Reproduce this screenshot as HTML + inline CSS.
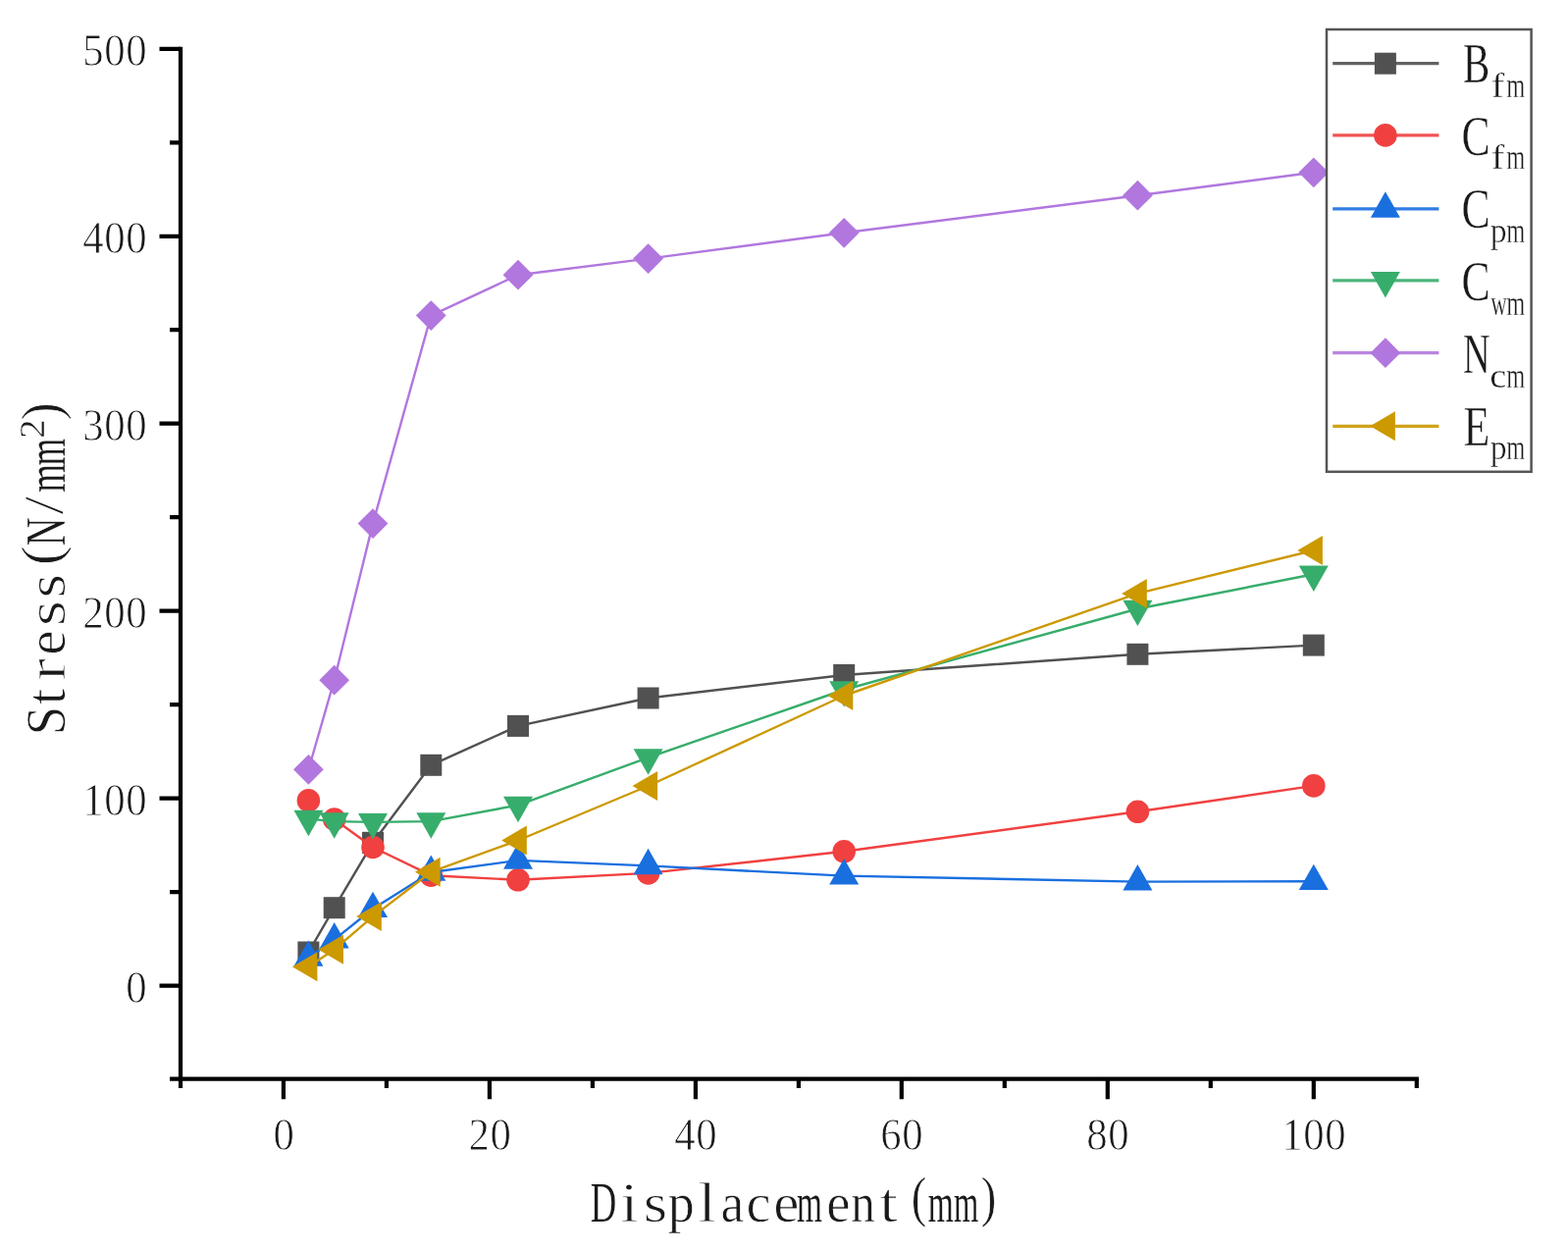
<!DOCTYPE html>
<html lang="en">
<head>
<meta charset="utf-8">
<title>Stress Displacement</title>
<style>
html,body{margin:0;padding:0;background:#fff;}
body{width:1598px;height:1275px;overflow:hidden;}
svg{display:block;}
text{font-family:"Liberation Serif","Noto Serif CJK SC",serif;fill:#1a1a1a;stroke:#fff;stroke-width:0.8;stroke-linejoin:round;}
.tk{font-size:46px;stroke-width:.45;}
.ti{font-size:57.5px;}
.lg{font-size:57.5px;}
.sb{font-size:36px;stroke-width:.4;}
.ax{stroke:#000;stroke-width:4.2;fill:none;}
</style>
</head>
<body>
<svg width="1598" height="1275" viewBox="0 0 1598 1275">
<rect width="1598" height="1275" fill="#fff"/>
<g id="series">
<g>
<path d="M314.4 970.5 L340.7 925.2 L380 858.8 L439.3 779.8 L528 739.9 L660.6 711.5 L860.2 688 L1159.4 666.8 L1338.8 657.6" fill="none" stroke="#515151" stroke-width="2.4" stroke-linejoin="round"/>
<rect x="303.4" y="959.5" width="22" height="22" fill="#515151"/>
<rect x="329.7" y="914.2" width="22" height="22" fill="#515151"/>
<rect x="369" y="847.8" width="22" height="22" fill="#515151"/>
<rect x="428.3" y="768.8" width="22" height="22" fill="#515151"/>
<rect x="517" y="728.9" width="22" height="22" fill="#515151"/>
<rect x="649.6" y="700.5" width="22" height="22" fill="#515151"/>
<rect x="849.2" y="677" width="22" height="22" fill="#515151"/>
<rect x="1148.4" y="655.8" width="22" height="22" fill="#515151"/>
<rect x="1327.8" y="646.6" width="22" height="22" fill="#515151"/>
</g>
<g>
<path d="M314.4 815.9 M340.7 835 L380 863.5 L439.3 892.2 L528 896.8 L660.6 889.9 L860.2 867.8 L1159.4 827.3 L1338.8 800.9" fill="none" stroke="#F14040" stroke-width="2.4" stroke-linejoin="round"/>
<circle cx="314.4" cy="815.9" r="11.8" fill="#F14040"/>
<circle cx="340.7" cy="835" r="11.8" fill="#F14040"/>
<circle cx="380" cy="863.5" r="11.8" fill="#F14040"/>
<circle cx="439.3" cy="892.2" r="11.8" fill="#F14040"/>
<circle cx="528" cy="896.8" r="11.8" fill="#F14040"/>
<circle cx="660.6" cy="889.9" r="11.8" fill="#F14040"/>
<circle cx="860.2" cy="867.8" r="11.8" fill="#F14040"/>
<circle cx="1159.4" cy="827.3" r="11.8" fill="#F14040"/>
<circle cx="1338.8" cy="800.9" r="11.8" fill="#F14040"/>
</g>
<g>
<path d="M314.4 976 L340.7 957.6 L380 926.3 L439.3 889 L528 876.9 L660.6 882.4 L860.2 892.6 L1159.4 898.6 L1338.8 898.3" fill="none" stroke="#1A6FDF" stroke-width="2.4" stroke-linejoin="round"/>
<polygon points="314.4,958.4 329.4,984.8 299.4,984.8" fill="#1A6FDF"/>
<polygon points="340.7,940 355.7,966.4 325.7,966.4" fill="#1A6FDF"/>
<polygon points="380,908.7 395,935.1 365,935.1" fill="#1A6FDF"/>
<polygon points="439.3,871.4 454.3,897.8 424.3,897.8" fill="#1A6FDF"/>
<polygon points="528,859.3 543,885.7 513,885.7" fill="#1A6FDF"/>
<polygon points="660.6,864.8 675.6,891.2 645.6,891.2" fill="#1A6FDF"/>
<polygon points="860.2,875 875.2,901.4 845.2,901.4" fill="#1A6FDF"/>
<polygon points="1159.4,881 1174.4,907.4 1144.4,907.4" fill="#1A6FDF"/>
<polygon points="1338.8,880.7 1353.8,907.1 1323.8,907.1" fill="#1A6FDF"/>
</g>
<g>
<path d="M314.4 834.6 L340.7 837.1 L380 837.9 L439.3 837.1 L528 820.6 L660.6 772.1 L860.2 703 L1159.4 620.5 L1338.8 585.3" fill="none" stroke="#37AD6B" stroke-width="2.4" stroke-linejoin="round"/>
<polygon points="314.4,852.2 329.4,825.8 299.4,825.8" fill="#37AD6B"/>
<polygon points="340.7,854.7 355.7,828.3 325.7,828.3" fill="#37AD6B"/>
<polygon points="380,855.5 395,829.1 365,829.1" fill="#37AD6B"/>
<polygon points="439.3,854.7 454.3,828.3 424.3,828.3" fill="#37AD6B"/>
<polygon points="528,838.2 543,811.8 513,811.8" fill="#37AD6B"/>
<polygon points="660.6,789.7 675.6,763.3 645.6,763.3" fill="#37AD6B"/>
<polygon points="860.2,720.6 875.2,694.2 845.2,694.2" fill="#37AD6B"/>
<polygon points="1159.4,638.1 1174.4,611.7 1144.4,611.7" fill="#37AD6B"/>
<polygon points="1338.8,602.9 1353.8,576.5 1323.8,576.5" fill="#37AD6B"/>
</g>
<g>
<path d="M314.4 784.3 L340.7 693.2 L380 533.6 L439.3 321.6 L528 280.2 L660.6 263.6 L860.2 237.3 L1159.4 199.2 L1338.8 175.8" fill="none" stroke="#B177DE" stroke-width="2.4" stroke-linejoin="round"/>
<polygon points="314.4,768.9 329.8,784.3 314.4,799.7 299,784.3" fill="#B177DE"/>
<polygon points="340.7,677.8 356.1,693.2 340.7,708.6 325.3,693.2" fill="#B177DE"/>
<polygon points="380,518.2 395.4,533.6 380,549 364.6,533.6" fill="#B177DE"/>
<polygon points="439.3,306.2 454.7,321.6 439.3,337 423.9,321.6" fill="#B177DE"/>
<polygon points="528,264.8 543.4,280.2 528,295.6 512.6,280.2" fill="#B177DE"/>
<polygon points="660.6,248.2 676,263.6 660.6,279 645.2,263.6" fill="#B177DE"/>
<polygon points="860.2,221.9 875.6,237.3 860.2,252.7 844.8,237.3" fill="#B177DE"/>
<polygon points="1159.4,183.8 1174.8,199.2 1159.4,214.6 1144,199.2" fill="#B177DE"/>
<polygon points="1338.8,160.4 1354.2,175.8 1338.8,191.2 1323.4,175.8" fill="#B177DE"/>
</g>
<g>
<path d="M314.4 985.2 L340.7 967.8 L380 934.1 L439.3 888.7 L528 856.5 L660.6 801 L860.2 709 L1159.4 604.9 L1338.8 561" fill="none" stroke="#CC9900" stroke-width="2.4" stroke-linejoin="round"/>
<polygon points="297.8,985.2 323.4,970.2 323.4,1000.2" fill="#CC9900"/>
<polygon points="324.4,967.8 350,952.8 350,982.8" fill="#CC9900"/>
<polygon points="363.2,934.1 388.8,919.1 388.8,949.1" fill="#CC9900"/>
<polygon points="423,888.7 448.6,873.7 448.6,903.7" fill="#CC9900"/>
<polygon points="511.2,856.5 536.8,841.5 536.8,871.5" fill="#CC9900"/>
<polygon points="644.5,801 670.1,786 670.1,816" fill="#CC9900"/>
<polygon points="843.7,709 869.3,694 869.3,724" fill="#CC9900"/>
<polygon points="1143.2,604.9 1168.8,589.9 1168.8,619.9" fill="#CC9900"/>
<polygon points="1322.3,561 1347.9,546 1347.9,576" fill="#CC9900"/>
</g>
</g>
<g id="axes">
<path class="ax" d="M184 47.7 V1108.9"/>
<path class="ax" d="M173 1099.6 H1445.9"/>
<path class="ax" d="M162.5 1004.6 H184 M173 909.1 H184 M162.5 813.6 H184 M173 718.2 H184 M162.5 622.7 H184 M173 527.2 H184 M162.5 431.7 H184 M173 336.2 H184 M162.5 240.8 H184 M173 145.3 H184 M162.5 49.8 H184 M288.9 1099.6 V1120.2 M393.9 1099.6 V1108.9 M498.9 1099.6 V1120.2 M603.9 1099.6 V1108.9 M708.9 1099.6 V1120.2 M813.9 1099.6 V1108.9 M918.8 1099.6 V1120.2 M1023.8 1099.6 V1108.9 M1128.8 1099.6 V1120.2 M1233.8 1099.6 V1108.9 M1338.8 1099.6 V1120.2 M1443.8 1099.6 V1108.9"/>
</g>
<g id="ticklabels" class="tk">
<text y="1022.2"><tspan x="128.31" textLength="21.39" lengthAdjust="spacingAndGlyphs">0</tspan></text>
<text y="831.2"><tspan x="84.31" textLength="21.39" lengthAdjust="spacingAndGlyphs">1</tspan><tspan x="106.31" textLength="21.39" lengthAdjust="spacingAndGlyphs">0</tspan><tspan x="128.31" textLength="21.39" lengthAdjust="spacingAndGlyphs">0</tspan></text>
<text y="640.3"><tspan x="84.31" textLength="21.39" lengthAdjust="spacingAndGlyphs">2</tspan><tspan x="106.31" textLength="21.39" lengthAdjust="spacingAndGlyphs">0</tspan><tspan x="128.31" textLength="21.39" lengthAdjust="spacingAndGlyphs">0</tspan></text>
<text y="449.3"><tspan x="84.31" textLength="21.39" lengthAdjust="spacingAndGlyphs">3</tspan><tspan x="106.31" textLength="21.39" lengthAdjust="spacingAndGlyphs">0</tspan><tspan x="128.31" textLength="21.39" lengthAdjust="spacingAndGlyphs">0</tspan></text>
<text y="258.4"><tspan x="84.31" textLength="21.39" lengthAdjust="spacingAndGlyphs">4</tspan><tspan x="106.31" textLength="21.39" lengthAdjust="spacingAndGlyphs">0</tspan><tspan x="128.31" textLength="21.39" lengthAdjust="spacingAndGlyphs">0</tspan></text>
<text y="67.4"><tspan x="84.31" textLength="21.39" lengthAdjust="spacingAndGlyphs">5</tspan><tspan x="106.31" textLength="21.39" lengthAdjust="spacingAndGlyphs">0</tspan><tspan x="128.31" textLength="21.39" lengthAdjust="spacingAndGlyphs">0</tspan></text>
<text y="1172"><tspan x="278.4" textLength="21.39" lengthAdjust="spacingAndGlyphs">0</tspan></text>
<text y="1172"><tspan x="477.38" textLength="21.39" lengthAdjust="spacingAndGlyphs">2</tspan><tspan x="499.38" textLength="21.39" lengthAdjust="spacingAndGlyphs">0</tspan></text>
<text y="1172"><tspan x="687.37" textLength="21.39" lengthAdjust="spacingAndGlyphs">4</tspan><tspan x="709.37" textLength="21.39" lengthAdjust="spacingAndGlyphs">0</tspan></text>
<text y="1172"><tspan x="897.35" textLength="21.39" lengthAdjust="spacingAndGlyphs">6</tspan><tspan x="919.35" textLength="21.39" lengthAdjust="spacingAndGlyphs">0</tspan></text>
<text y="1172"><tspan x="1107.33" textLength="21.39" lengthAdjust="spacingAndGlyphs">8</tspan><tspan x="1129.33" textLength="21.39" lengthAdjust="spacingAndGlyphs">0</tspan></text>
<text y="1172"><tspan x="1306.31" textLength="21.39" lengthAdjust="spacingAndGlyphs">1</tspan><tspan x="1328.31" textLength="21.39" lengthAdjust="spacingAndGlyphs">0</tspan><tspan x="1350.31" textLength="21.39" lengthAdjust="spacingAndGlyphs">0</tspan></text>
</g>
<text class="ti" y="1244.7"><tspan x="601.74" textLength="26.53" lengthAdjust="spacingAndGlyphs" stroke-width="0.22">D</tspan><tspan x="632.21" textLength="18.34" lengthAdjust="spacingAndGlyphs" stroke-width="1">i</tspan><tspan x="655.72" textLength="24.45" lengthAdjust="spacingAndGlyphs" stroke-width="0.95">s</tspan><tspan x="680.73" textLength="26.98" lengthAdjust="spacingAndGlyphs" stroke-width="0.7">p</tspan><tspan x="711.22" textLength="18.85" lengthAdjust="spacingAndGlyphs" stroke-width="1">l</tspan><tspan x="734.52" textLength="23.71" lengthAdjust="spacingAndGlyphs" stroke-width="0.69">a</tspan><tspan x="760.56" textLength="24.97" lengthAdjust="spacingAndGlyphs" stroke-width="0.77">c</tspan><tspan x="788.2" textLength="26.14" lengthAdjust="spacingAndGlyphs" stroke-width="0.84">e</tspan><tspan x="812.1" textLength="25.92" lengthAdjust="spacingAndGlyphs" stroke-width="0.15">m</tspan><tspan x="842.16" textLength="24.34" lengthAdjust="spacingAndGlyphs" stroke-width="0.73">e</tspan><tspan x="867.18" textLength="24.46" lengthAdjust="spacingAndGlyphs" stroke-width="0.56">n</tspan><tspan x="896.34" textLength="18.85" lengthAdjust="spacingAndGlyphs" stroke-width="1">t</tspan><tspan x="928.65" textLength="15.56" lengthAdjust="spacingAndGlyphs" dy="-5.5" stroke-width="0.5">(</tspan><tspan x="945.7" textLength="26.03" lengthAdjust="spacingAndGlyphs" dy="5.5" stroke-width="0.15">m</tspan><tspan x="972.02" textLength="25.29" lengthAdjust="spacingAndGlyphs" stroke-width="0.15">m</tspan><tspan x="999.79" textLength="15.56" lengthAdjust="spacingAndGlyphs" dy="-5.5" stroke-width="0.5">)</tspan></text>
<text class="ti" transform="translate(66.4 751.5) rotate(-90)" y="0"><tspan x="2.16" textLength="29.42" lengthAdjust="spacingAndGlyphs" stroke-width="0.67">S</tspan><tspan x="33.32" textLength="16.53" lengthAdjust="spacingAndGlyphs" stroke-width="0.86">t</tspan><tspan x="57.87" textLength="22.59" lengthAdjust="spacingAndGlyphs" stroke-width="1">r</tspan><tspan x="83.86" textLength="25.42" lengthAdjust="spacingAndGlyphs" stroke-width="0.79">e</tspan><tspan x="113.33" textLength="26.4" lengthAdjust="spacingAndGlyphs" stroke-width="1">s</tspan><tspan x="142.11" textLength="24.57" lengthAdjust="spacingAndGlyphs" stroke-width="0.96">s</tspan><tspan x="175.35" textLength="20.1" lengthAdjust="spacingAndGlyphs" dy="-5.5" stroke-width="0.88">(</tspan><tspan x="195.15" textLength="28.87" lengthAdjust="spacingAndGlyphs" dy="5.5" stroke-width="0.31">N</tspan><tspan x="227.07" textLength="18.85" lengthAdjust="spacingAndGlyphs" dy="-2" stroke-width="1">/</tspan><tspan x="249.82" textLength="28.86" lengthAdjust="spacingAndGlyphs" dy="2" stroke-width="0.23">m</tspan><tspan x="277.36" textLength="27.39" lengthAdjust="spacingAndGlyphs" stroke-width="0.18">m</tspan><tspan x="304.7" textLength="19.33" lengthAdjust="spacingAndGlyphs" class="sb" dy="-21.6">2</tspan><tspan x="322.93" textLength="18.28" lengthAdjust="spacingAndGlyphs" dy="16.1" stroke-width="0.73">)</tspan></text>
<g id="legend">
<rect x="1352" y="30" width="208.6" height="450.8" fill="#fff" stroke="#555" stroke-width="2.5"/>
<path d="M1358.2 64.7 H1466.4" stroke="#515151" stroke-width="3.2" stroke-opacity=".9" fill="none"/>
<rect x="1400.9" y="53.7" width="22" height="22" fill="#515151"/>
<text class="lg" y="84.4"><tspan x="1490.92" textLength="27.27" lengthAdjust="spacingAndGlyphs" stroke-width="0.34">B</tspan><tspan x="1519.52" textLength="13.79" lengthAdjust="spacingAndGlyphs" class="sb" dy="14.8">f</tspan><tspan x="1535.19" textLength="18.99" lengthAdjust="spacingAndGlyphs" class="sb">m</tspan></text>
<path d="M1358.2 137.9 H1466.4" stroke="#F14040" stroke-width="3.2" stroke-opacity=".9" fill="none"/>
<circle cx="1411.9" cy="137.9" r="11.8" fill="#F14040"/>
<text class="lg" y="157.6"><tspan x="1489.51" textLength="29.1" lengthAdjust="spacingAndGlyphs" stroke-width="0.41">C</tspan><tspan x="1519.52" textLength="13.79" lengthAdjust="spacingAndGlyphs" class="sb" dy="14.8">f</tspan><tspan x="1535.19" textLength="18.99" lengthAdjust="spacingAndGlyphs" class="sb">m</tspan></text>
<path d="M1358.2 212.9 H1466.4" stroke="#1A6FDF" stroke-width="3.2" stroke-opacity=".9" fill="none"/>
<polygon points="1411.9,195.3 1426.9,221.7 1396.9,221.7" fill="#1A6FDF"/>
<text class="lg" y="232"><tspan x="1489.51" textLength="29.1" lengthAdjust="spacingAndGlyphs" stroke-width="0.41">C</tspan><tspan x="1518.66" textLength="16.86" lengthAdjust="spacingAndGlyphs" class="sb" dy="14.8">p</tspan><tspan x="1535.19" textLength="18.99" lengthAdjust="spacingAndGlyphs" class="sb">m</tspan></text>
<path d="M1358.2 285.9 H1466.4" stroke="#37AD6B" stroke-width="3.2" stroke-opacity=".9" fill="none"/>
<polygon points="1411.9,303.5 1426.9,277.1 1396.9,277.1" fill="#37AD6B"/>
<text class="lg" y="306"><tspan x="1489.51" textLength="29.1" lengthAdjust="spacingAndGlyphs" stroke-width="0.41">C</tspan><tspan x="1519.18" textLength="16.62" lengthAdjust="spacingAndGlyphs" class="sb" dy="14.8">w</tspan><tspan x="1535.19" textLength="18.99" lengthAdjust="spacingAndGlyphs" class="sb">m</tspan></text>
<path d="M1358.2 359.7 H1466.4" stroke="#B177DE" stroke-width="3.2" stroke-opacity=".9" fill="none"/>
<polygon points="1411.9,344.3 1427.3,359.7 1411.9,375.1 1396.5,359.7" fill="#B177DE"/>
<text class="lg" y="380"><tspan x="1491" textLength="27.58" lengthAdjust="spacingAndGlyphs" stroke-width="0.26">N</tspan><tspan x="1518.15" textLength="16.93" lengthAdjust="spacingAndGlyphs" class="sb" dy="14.8">c</tspan><tspan x="1535.19" textLength="18.99" lengthAdjust="spacingAndGlyphs" class="sb">m</tspan></text>
<path d="M1358.2 434.3 H1466.4" stroke="#CC9900" stroke-width="3.2" stroke-opacity=".9" fill="none"/>
<polygon points="1396.3,434.3 1421.9,419.3 1421.9,449.3" fill="#CC9900"/>
<text class="lg" y="453.6"><tspan x="1491.53" textLength="26.86" lengthAdjust="spacingAndGlyphs" stroke-width="0.42">E</tspan><tspan x="1518.66" textLength="16.86" lengthAdjust="spacingAndGlyphs" class="sb" dy="14.8">p</tspan><tspan x="1535.19" textLength="18.99" lengthAdjust="spacingAndGlyphs" class="sb">m</tspan></text>
</g>
</svg>
</body>
</html>
